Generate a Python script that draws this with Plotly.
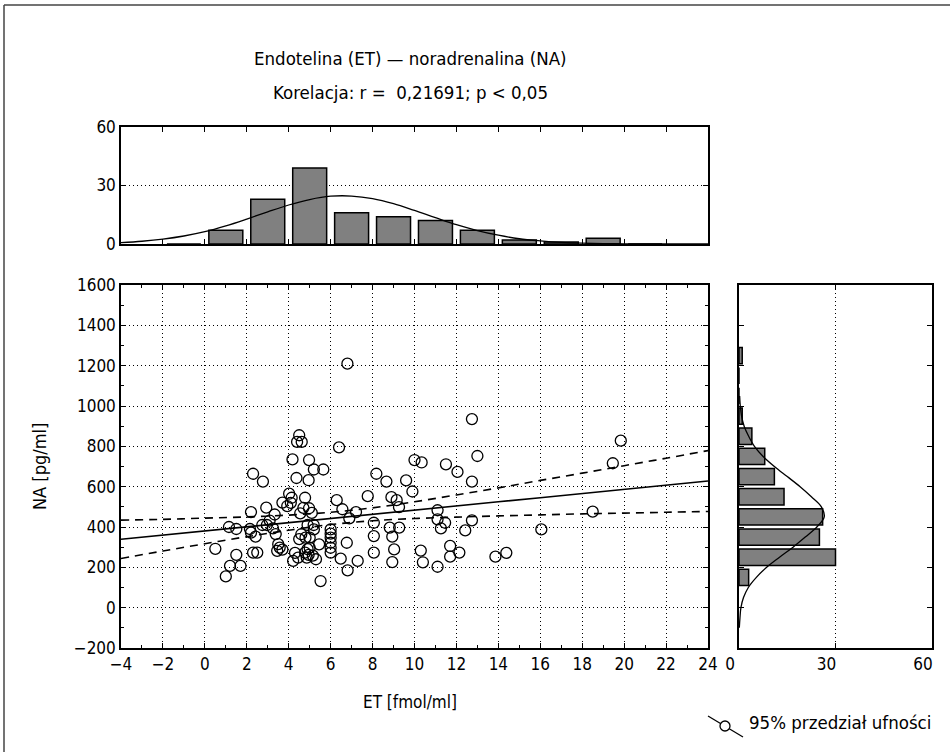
import plotly.graph_objects as go

W, H = 950, 752

# ---------------- data ----------------
et_vals = [0.5, 1.0, 1.2, 1.7, 1.5, 1.15, 1.5, 2.15, 2.2,
           2.3, 2.77, 2.3, 2.5, 2.42, 2.2, 2.93, 3.33, 3.09, 2.96, 2.74, 3.25, 3.38, 3.5, 3.57, 3.45,
           3.7, 3.93, 4.02, 4.14,
           4.5, 4.4, 4.62, 4.18, 4.97, 4.37, 4.95, 4.78, 4.7, 4.97, 4.21, 4.45, 4.78, 4.86, 4.9,
           4.6, 4.8, 5.0, 4.5, 5.0, 4.95, 5.15, 5.3, 4.55, 4.9,
           5.2, 5.65, 5.19, 5.2, 5.45, 5.52, 6.0, 6.0, 6.0, 6.0, 6.0, 6.0, 6.4, 6.8, 6.29, 6.56,
           6.89, 7.21, 6.77, 6.48, 6.81, 7.29, 7.77,
           8.18, 8.66, 9.6, 8.9, 9.15, 9.26, 8.06, 8.82, 9.27, 8.06, 8.94, 9.03, 8.06, 8.94, 9.9,
           10.0, 10.34, 11.5, 12.05, 12.74, 12.74, 13.0, 11.1, 11.1, 11.46, 11.26, 12.42, 12.74,
           10.3, 10.4, 11.1, 11.7, 11.7, 12.14,
           13.86, 14.38, 16.05, 18.5, 19.46, 19.84,
           3.7, 4.3, 5.1, 4.1]
na_vals = [292, 155, 207, 207, 262, 400, 390, 390, 372,
           664, 625, 273, 273, 352, 474, 496, 462, 432, 410, 410, 393, 365, 315, 298, 282,
           521, 504, 565, 545,
           855, 822, 822, 735, 732, 643, 632, 545, 495, 493, 232, 248, 273, 248, 290,
           364, 347, 347, 340, 297, 262, 258, 240, 468, 410,
           685, 685, 410, 388, 314, 132, 388, 367, 347, 322, 297, 273, 795, 1210, 533, 488,
           443, 474, 322, 243, 185, 232, 553,
           664, 625, 631, 548, 533, 499, 421, 397, 397, 355, 352, 289, 273, 226, 576,
           732, 720, 711, 673, 625, 935, 752, 483, 438, 421, 393, 383, 433,
           283, 225, 203, 306, 253, 273,
           253, 272, 388, 476, 716, 828,
           288, 272, 470, 520]

# regression line and 95% confidence band
fit_x = [-4, -2, 0, 2, 4, 6, 8, 10, 12, 14, 16, 18, 20, 22, 24]
fit_mid = [339, 360, 380, 401, 422, 442, 463, 484, 504, 525, 545, 566, 587, 607, 628]
fit_upper = [434, 438, 444, 450, 459, 473, 495, 525, 559, 594, 631, 667, 704, 741, 779]
fit_lower = [244, 281, 317, 352, 384, 412, 431, 442, 449, 455, 460, 465, 469, 473, 477]

# ET histogram (top) - bins of width 2
et_bin_centers = [-1, 1, 3, 5, 7, 9, 11, 13, 15, 17, 19, 21]
et_counts = [0, 7, 23, 39, 16, 14, 12, 7, 2, 1, 3, 0]
et_curve_x = [-4, -3, -2, -1, 0, 1, 2, 3, 4, 5, 6, 7, 8, 9, 10, 11, 12, 13, 14, 15, 16,
              17, 18, 19, 20, 21, 22, 23, 24]
et_curve_y = [0.7, 1.4, 2.5, 4.1, 6.3, 9.3, 12.8, 16.5, 20.0, 22.8, 24.5, 24.6, 23.3, 20.7,
              17.2, 13.5, 9.9, 6.9, 4.5, 2.7, 1.6, 0.8, 0.4, 0.2, 0.1, 0.0, 0.0, 0.0, 0.0]

# NA histogram (right) - bins of width 100
na_bin_centers = [150, 250, 350, 450, 550, 650, 750, 850, 950, 1050, 1150, 1250]
na_counts = [3, 30, 25, 26, 14, 11, 8, 4, 1, 0, 0, 1]
na_curve_y = [-100, -50, 0, 50, 100, 150, 200, 250, 300, 350, 400, 450, 500, 550, 600, 650,
              700, 750, 800, 850, 900, 950, 1000, 1050]
na_curve_x = [0.1, 0.3, 0.6, 1.4, 2.9, 5.4, 8.6, 12.6, 16.8, 20.6, 24.2, 26.5, 25.6, 22.5,
              19.0, 15.0, 11.0, 7.5, 4.8, 3.0, 1.6, 0.8, 0.4, 0.2]

title_1 = "Endotelina (ET) — noradrenalina (NA)"
title_2 = "Korelacja: r =  0,21691; p < 0,05"
x_title = "ET [fmol/ml]"
y_title = "NA [pg/ml]"
legend_text = "95% przedział ufności"

# ---------------- figure ----------------
FONT = "Liberation Sans Narrow, Arial Narrow, DejaVu Sans Condensed, sans-serif"


def px(x):
    return x / W


def py(y):
    return 1 - y / H


fig = go.Figure()

fig.add_trace(go.Scatter(x=et_vals, y=na_vals, mode="markers", xaxis="x", yaxis="y",
                         marker=dict(symbol="circle-open", size=11, color="black",
                                     line=dict(width=1.3, color="black"))))
fig.add_trace(go.Scatter(x=fit_x, y=fit_mid, mode="lines", xaxis="x", yaxis="y",
                         line=dict(color="black", width=1.6)))
fig.add_trace(go.Scatter(x=fit_x, y=fit_upper, mode="lines", xaxis="x", yaxis="y",
                         line=dict(color="black", width=1.6, dash="8px,6px", shape="spline")))
fig.add_trace(go.Scatter(x=fit_x, y=fit_lower, mode="lines", xaxis="x", yaxis="y",
                         line=dict(color="black", width=1.6, dash="8px,6px", shape="spline")))

fig.add_trace(go.Bar(x=et_bin_centers, y=et_counts, xaxis="x2", yaxis="y2",
                     marker=dict(color="#808080", line=dict(color="black", width=1.5))))
fig.add_trace(go.Scatter(x=et_curve_x, y=et_curve_y, mode="lines", xaxis="x2", yaxis="y2",
                         line=dict(color="black", width=1.3, shape="spline")))

fig.add_trace(go.Bar(x=na_counts, y=na_bin_centers, orientation="h", xaxis="x3", yaxis="y3",
                     marker=dict(color="#808080", line=dict(color="black", width=1.5))))
fig.add_trace(go.Scatter(x=na_curve_x, y=na_curve_y, mode="lines", xaxis="x3", yaxis="y3",
                         line=dict(color="black", width=1.3, shape="spline")))

axis_common = dict(showline=True, linecolor="black", linewidth=1.5, mirror="allticks",
                   ticks="inside", tickcolor="black", ticklen=5, zeroline=False,
                   automargin=False,
                   tickfont=dict(size=17, color="black", family=FONT))
grid_dot = dict(showgrid=True, gridcolor="black", gridwidth=1, griddash="1px,3px")

main_xd = [px(121), px(708)]
main_yd = [py(648), py(285)]

fig.update_layout(
    template="none",
    width=W, height=H, margin=dict(l=0, r=0, t=0, b=0, pad=0, autoexpand=False),
    paper_bgcolor="white", plot_bgcolor="white", showlegend=False,
    font=dict(family=FONT, color="black", size=17),
    bargap=0.19,
    xaxis=dict(domain=main_xd, range=[-4, 24], tick0=-4, dtick=2, anchor="y",
               minor=dict(ticks="inside", dtick=1, ticklen=3, tickcolor="black", showgrid=False),
               **axis_common, **grid_dot),
    yaxis=dict(domain=main_yd, range=[-200, 1600], tick0=-200, dtick=200, anchor="x",
               minor=dict(ticks="inside", dtick=100, ticklen=3, tickcolor="black", showgrid=False),
               **axis_common, **grid_dot),
    xaxis2=dict(domain=main_xd, range=[-4, 24], tick0=-4, dtick=2, anchor="y2",
                showticklabels=False, showgrid=False, **axis_common),
    yaxis2=dict(domain=[py(244), py(127)], range=[0, 60], dtick=30, anchor="x2",
                **axis_common, **grid_dot),
    xaxis3=dict(domain=[px(739), px(932)], range=[0, 60], dtick=30, anchor="y3",
                ticklabelshift=-9, **axis_common, **grid_dot),
    yaxis3=dict(domain=main_yd, range=[-200, 1600], tick0=-200, dtick=200, anchor="x3",
                showticklabels=False, showgrid=False, **axis_common),
)

ann_common = dict(xref="paper", yref="paper", showarrow=False, xanchor="center",
                  yanchor="middle")
annotations = [
    dict(text=title_1, x=px(410), y=py(58), font=dict(size=18.5), **ann_common),
    dict(text=title_2, x=px(410), y=py(92), font=dict(size=18.5), **ann_common),
    dict(text=x_title, x=px(410), y=py(702), font=dict(size=17), **ann_common),
    dict(text=y_title, x=px(40), y=py(467), textangle=-90, font=dict(size=18), **ann_common),
    dict(text=legend_text, x=px(840), y=py(722), font=dict(size=18.5), **ann_common),
]
fig.update_layout(annotations=annotations)

shapes = [
    # outer frame (top and left edges)
    dict(type="line", xref="paper", yref="paper", x0=px(4), x1=1, y0=py(5), y1=py(5),
         line=dict(color="#444", width=1.5)),
    dict(type="line", xref="paper", yref="paper", x0=px(4), x1=px(4), y0=py(5), y1=0,
         line=dict(color="#444", width=1.5)),
    # legend symbol
    dict(type="line", xref="paper", yref="paper", x0=px(708), x1=px(743), y0=py(716), y1=py(737),
         line=dict(color="black", width=1.3)),
    dict(type="circle", xref="paper", yref="paper", x0=px(720), x1=px(730), y0=py(721),
         y1=py(731), fillcolor="white", line=dict(color="black", width=1.3)),
]
fig.update_layout(shapes=shapes)

fig.write_html("out.html", config={"displayModeBar": False},
               post_script="document.body.style.margin='0px';document.body.style.overflow='hidden';")
